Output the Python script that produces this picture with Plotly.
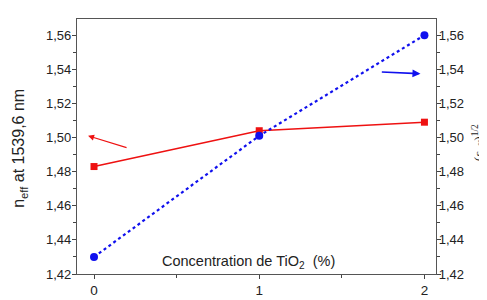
import plotly.graph_objects as go

conc = [0, 1, 2]
n_eff = [1.483, 1.504, 1.509]
sqrt_eps = [1.430, 1.501, 1.560]
y_ticks = [1.42, 1.44, 1.46, 1.48, 1.50, 1.52, 1.54, 1.56]
y_tick_labels = ["1,42", "1,44", "1,46", "1,48", "1,50", "1,52", "1,54", "1,56"]
x_ticks = [0, 1, 2]

RED = "#ee1111"
BLUE = "#1010ee"
FONT = "Liberation Sans, Arial, sans-serif"

fig = go.Figure()
fig.add_trace(go.Scatter(x=conc, y=n_eff, mode="lines+markers",
                         line=dict(color=RED, width=1.6),
                         marker=dict(symbol="square", size=7, color=RED),
                         yaxis="y", showlegend=False))
fig.add_trace(go.Scatter(x=conc, y=sqrt_eps, mode="lines+markers",
                         line=dict(color=BLUE, width=2.2, dash="dot"),
                         marker=dict(symbol="circle", size=8, color=BLUE),
                         yaxis="y2", showlegend=False))

yrange = [1.42, 1.5695]
common_y = dict(range=yrange, tickvals=y_ticks, ticktext=y_tick_labels,
                ticks="outside", ticklen=4, tickwidth=1, tickcolor="#444",
                showline=True, linecolor="#555", linewidth=1.2,
                showgrid=False, zeroline=False,
                tickfont=dict(family=FONT, size=13, color="#222"),
                minor=dict(dtick=0.01, ticks="outside", ticklen=3, tickcolor="#444"))

fig.update_layout(
    width=487, height=300,
    margin=dict(l=69, r=59, t=10, b=19),
    paper_bgcolor="white", plot_bgcolor="white",
    xaxis=dict(range=[-0.103, 2.07], tickvals=x_ticks,
               ticks="outside", ticklen=4, tickcolor="#444",
               showline=True, linecolor="#555", linewidth=1.2, mirror=True,
               showgrid=False, zeroline=False,
               tickfont=dict(family=FONT, size=13.5, color="#222"),
               minor=dict(dtick=0.5, ticks="outside", ticklen=3, tickcolor="#444")),
    yaxis=dict(side="left", ticklabelstandoff=-2, **common_y),
    yaxis2=dict(side="right", overlaying="y", anchor="x", ticklabelstandoff=-5, **common_y),
    annotations=[
        dict(text="Concentration de TiO<sub>2</sub>  (%)", x=0.42, y=268, xref="paper", yref="y",
             showarrow=False, font=dict(family=FONT, size=14.5, color="#222"),
             xanchor="center", yanchor="middle"),
        dict(text="n<sub>eff</sub> at 1539,6 nm", x=15, y=140, xref="paper", yref="paper",
             showarrow=False, textangle=-90, xanchor="center", yanchor="middle",
             font=dict(family=FONT, size=16, color="#222")),
        dict(text="(ε<sub>eff</sub>)<sup>1/2</sup>", x=471, y=142, xref="paper", yref="paper",
             showarrow=False, textangle=-90, xanchor="center", yanchor="middle",
             font=dict(family="Liberation Serif, Times New Roman, serif", size=13.5, color="#222")),
        # red arrow pointing to left axis
        dict(x=-0.036, y=1.501, ax=0.206, ay=1.4938, xref="x", yref="y", axref="x", ayref="y",
             text="", showarrow=True, arrowhead=2, arrowsize=1, arrowwidth=1.2, arrowcolor=RED),
        # blue arrow pointing to right axis
        dict(x=1.976, y=1.5374, ax=1.733, ay=1.5385, xref="x", yref="y", axref="x", ayref="y",
             text="", showarrow=True, arrowhead=2, arrowsize=1, arrowwidth=1.6, arrowcolor=BLUE),
    ],
)

# convert pixel-based annotation positions to paper fractions
plot_w = 487 - 69 - 59
plot_h = 300 - 10 - 19
anns = list(fig.layout.annotations)
anns[0].update(y=1.42 + (281 - 268) / plot_h * (yrange[1] - yrange[0]), x=(240 - 69) / plot_w)
anns[1].update(x=(12 - 69) / plot_w, y=(281 - 148) / plot_h)
anns[2].update(x=(471 - 69) / plot_w, y=(281 - 142) / plot_h)
fig.layout.annotations = anns

fig.write_html("out.html")
